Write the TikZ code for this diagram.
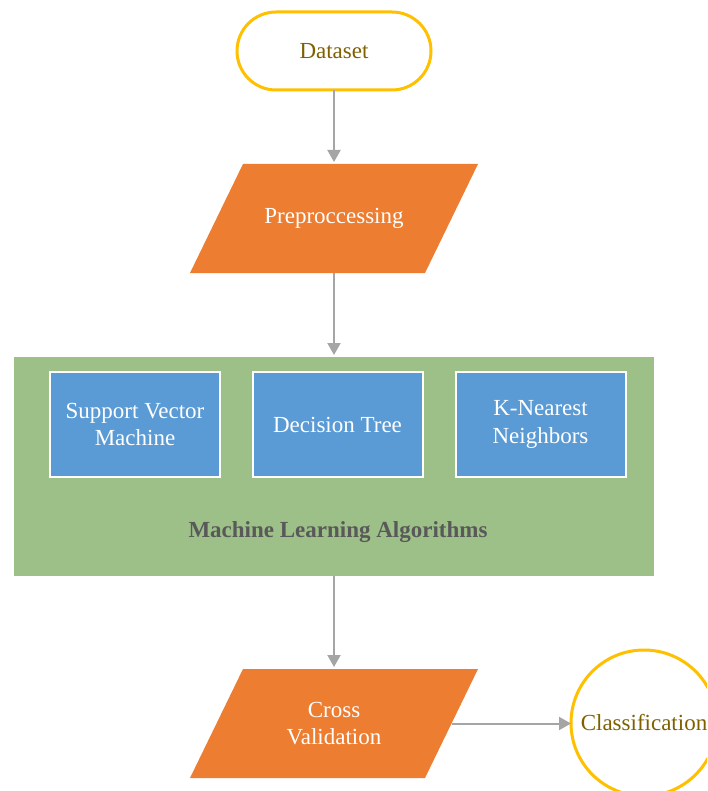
\documentclass[tikz,border=0pt]{standalone}
\usepackage{fontspec}
\setmainfont{Liberation Serif}
\usetikzlibrary{arrows.meta,backgrounds}
\definecolor{gold}{HTML}{FFC000}
\definecolor{goldtext}{HTML}{7F6000}
\definecolor{orangefill}{HTML}{ED7D31}
\definecolor{greenfill}{HTML}{9DC088}
\definecolor{bluefill}{HTML}{5B9BD5}
\definecolor{arrowgray}{HTML}{A5A5A5}
\definecolor{labelgray}{HTML}{595959}
\tikzset{
  x=1pt, y=-1pt,
  every node/.style={font=\fontsize{23}{27.5}\selectfont, align=center, inner sep=0pt, outer sep=0pt},
  terminal/.style={rectangle, rounded corners=39pt, draw=gold, line width=3pt, fill=white,
    minimum width=194pt, minimum height=78pt, text=goldtext},
  paranode/.style={rectangle, minimum width=235pt, minimum height=109pt, text=white},
  parafill/.style={fill=orangefill},
  group/.style={rectangle, fill=greenfill, minimum width=640pt, minimum height=219pt},
  algo/.style={rectangle, fill=bluefill, draw=white, line width=2pt, minimum width=170pt,
    minimum height=105pt, text=white},
  grouplabel/.style={font=\fontsize{23}{27.5}\selectfont\bfseries, text=labelgray},
  endcircle/.style={circle, draw=gold, line width=3pt, fill=white, minimum size=146pt, text=goldtext},
  arr/.style={draw=arrowgray, line width=2pt, -{Triangle[width=13pt,length=12pt]}}
}
\begin{document}
\begin{tikzpicture}
\useasboundingbox (0,0) rectangle (707,791);
\clip (0,0) rectangle (707,791);

\node[terminal] (ds) at (334,51) {Dataset};

\node[paranode] (pre) at (334,218.5) {Preproccessing};

\node[group] (ml) at (334,466.5) {};
\node[algo] (svm) at (135,424.5) {Support Vector\\Machine};
\node[algo] (dt) at (337.5,424.5) {Decision Tree};
\node[algo] (knn) at (540.5,424.5) {K-Nearest\\Neighbors};
\node[grouplabel] (mllabel) at (338,532) {Machine Learning Algorithms};

\node[paranode] (cv) at (334,723.5) {Cross\\Validation};

\node[endcircle] (cls) at (644,723) {Classification};

\begin{scope}[on background layer]
  \fill[white] (0,0) rectangle (707,791);
  \fill[parafill] ([xshift=26.5pt]pre.north west) -- ([xshift=26.5pt]pre.north east)
    -- ([xshift=-26.5pt]pre.south east) -- ([xshift=-26.5pt]pre.south west) -- cycle;
  \fill[parafill] ([xshift=26.5pt]cv.north west) -- ([xshift=26.5pt]cv.north east)
    -- ([xshift=-26.5pt]cv.south east) -- ([xshift=-26.5pt]cv.south west) -- cycle;
\end{scope}

\draw[arr] (ds.south) -- ([yshift=2pt]pre.north);
\draw[arr] (pre.south) -- ([yshift=2pt]ml.north);
\draw[arr] (ml.south) -- ([yshift=2pt]cv.north);
\draw[arr] (cv.east) -- (cv.east -| cls.west);
\end{tikzpicture}
\end{document}
